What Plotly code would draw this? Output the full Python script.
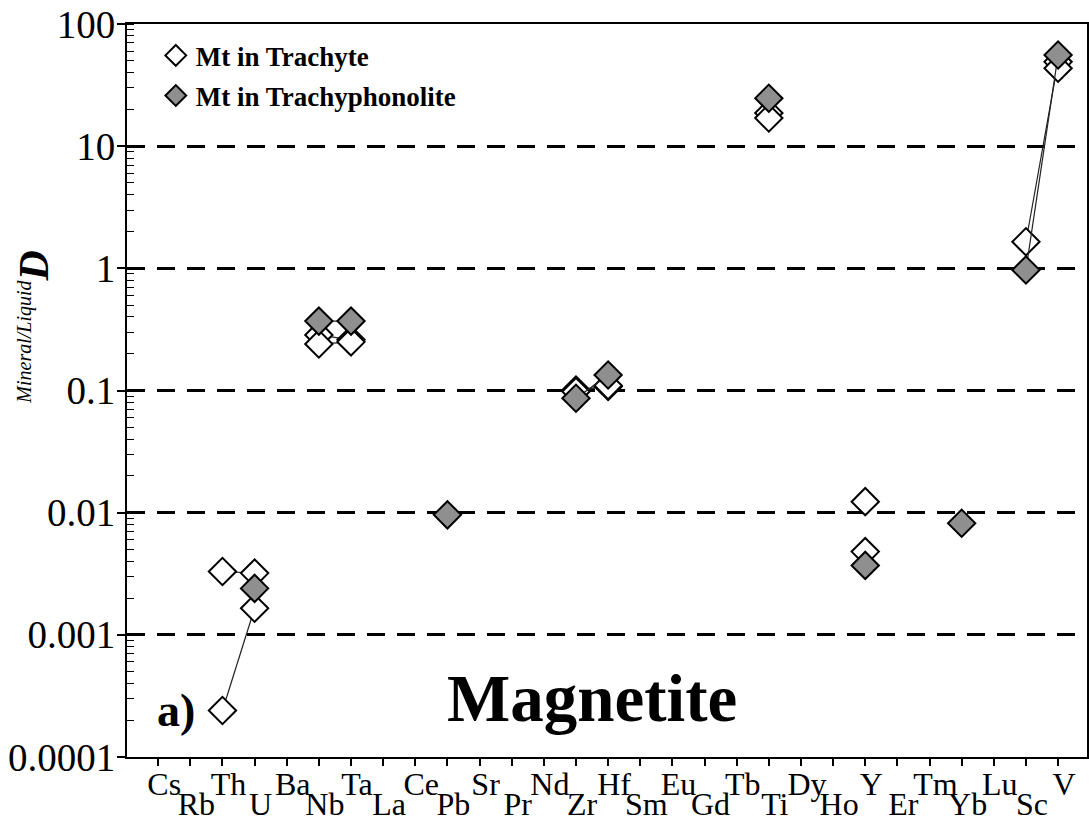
import plotly.graph_objects as go

elements = ["Cs", "Rb", "Th", "U", "Ba", "Nb", "Ta", "La", "Ce", "Pb", "Sr", "Pr", "Nd", "Zr",
            "Hf", "Sm", "Eu", "Gd", "Tb", "Ti", "Dy", "Ho", "Y", "Er", "Tm", "Yb", "Lu", "Sc", "V"]

#            Cs    Rb    Th       U        Ba    Nb     Ta    La    Ce    Pb      Sr    Pr    Nd    Zr      Hf     Sm    Eu    Gd    Tb    Ti    Dy    Ho    Y       Er    Tm    Yb      Lu    Sc    V
trachyte_1 = [None, None, 0.0033,  0.0032,  None, 0.285, 0.26, None, None, None,   None, None, None, 0.101,  0.108, None, None, None, None, 18.7, None, None, 0.0123, None, None, None,   None, 1.65, 49.0]
trachyte_2 = [None, None, 0.00024, 0.00165, None, 0.24,  0.25, None, None, None,   None, None, None, 0.098,  0.110, None, None, None, None, 17.0, None, None, 0.0048, None, None, None,   None, None, 43.4]
trachyphon = [None, None, None,    0.0024,  None, 0.37,  0.37, None, None, 0.0096, None, None, None, 0.0865, 0.134, None, None, None, None, 24.7, None, None, 0.0037, None, None, 0.0082, None, 0.97, 55.7]

ytick_vals = [1e-4, 1e-3, 1e-2, 1e-1, 1, 10, 100]
ytick_text = ["0.0001", "0.001", "0.01", "0.1", "1", "10", "100"]

FONT = "Liberation Serif"
idx = list(range(len(elements)))

fig = go.Figure()

def add_lines(vals, xaxis):
    fig.add_trace(go.Scatter(x=idx, y=vals, mode="lines", line=dict(color="#222", width=1.2),
                             connectgaps=False, showlegend=False, hoverinfo="skip", xaxis=xaxis))

def add_markers(vals, fill, name, show, xaxis):
    fig.add_trace(go.Scatter(x=idx, y=vals, mode="markers", name=name, showlegend=show,
                             legendgroup=name, xaxis=xaxis,
                             marker=dict(symbol="diamond", size=21, color=fill,
                                         line=dict(color="black", width=2))))

add_lines(trachyte_1, "x")
add_markers(trachyte_1, "white", "<b>Mt in Trachyte</b>", True, "x")
add_lines(trachyte_2, "x")
add_markers(trachyte_2, "white", "<b>Mt in Trachyte</b>", False, "x")
add_lines(trachyphon, "x2")
add_markers(trachyphon, "#8f8f8f", "<b>Mt in Trachyphonolite</b>", True, "x3")

xr = [-0.97, 28.9]
even_vals = [i for i in idx if i % 2 == 0]
even_text = [elements[i] for i in even_vals]
odd_vals = [i for i in idx if i % 2 == 1]
odd_text = [elements[i] for i in odd_vals]

tickfont = dict(size=32, family=FONT, color="black")

fig.update_layout(
    template="none",
    width=1089, height=824,
    margin=dict(l=127, r=2, t=24, b=67),
    paper_bgcolor="white", plot_bgcolor="white",
    font=dict(family=FONT, color="black"),
    xaxis=dict(range=xr, tickmode="array", tickvals=idx, showticklabels=False,
               ticks="outside", ticklen=7, tickwidth=1.5, tickcolor="black",
               showline=True, linewidth=2, linecolor="black", mirror=True,
               showgrid=False, zeroline=False, automargin=False),
    xaxis2=dict(range=xr, overlaying="x", anchor="y", side="bottom", tickmode="array",
                tickvals=even_vals, ticktext=even_text, ticks="", showline=False,
                showgrid=False, zeroline=False, ticklabelstandoff=5, ticklabelshift=6,
                tickfont=tickfont, automargin=False),
    xaxis3=dict(range=xr, overlaying="x", anchor="y", side="bottom", tickmode="array",
                tickvals=odd_vals, ticktext=odd_text, ticks="outside", ticklen=24,
                tickcolor="rgba(0,0,0,0)", showline=False, showgrid=False, zeroline=False,
                ticklabelstandoff=-5, ticklabelshift=6, tickfont=tickfont, automargin=False),
    yaxis=dict(type="log", range=[-4, 2], tickmode="array", tickvals=ytick_vals,
               ticktext=ytick_text, ticks="outside", ticklen=8, tickwidth=2, tickcolor="black",
               showline=True, linewidth=2, linecolor="black", mirror=True,
               showgrid=True, gridcolor="black", gridwidth=2.5, griddash="18px,12px",
               zeroline=False, ticklabelstandoff=-6, automargin=False,
               tickfont=dict(size=39, family=FONT, color="black"),
               minor=dict(ticks="inside", ticklen=7, tickwidth=1.3, tickcolor="black",
                          dtick="D1", showgrid=False)),
    legend=dict(x=0.03, y=0.99, xanchor="left", yanchor="top", bgcolor="rgba(0,0,0,0)",
                font=dict(size=27, family=FONT, color="black"), traceorder="grouped",
                tracegroupgap=2),
    showlegend=True,
)

fig.add_annotation(xref="paper", yref="paper", x=0.029, y=0.026, text="<b>a)</b>",
                   showarrow=False, font=dict(size=46, family=FONT, color="black"))
fig.add_annotation(xref="paper", yref="paper", x=0.484, y=0.027, text="<b>Magnetite</b>",
                   showarrow=False, font=dict(size=67, family=FONT, color="black"))
fig.add_annotation(xref="paper", yref="paper", x=-0.123, y=0.587, textangle=-90,
                   text="<sup><span style='font-size:20px'><i>Mineral/Liquid</i></span></sup><b><i>D</i></b>",
                   showarrow=False, font=dict(size=42, family=FONT, color="black"))

fig.write_html("out.html")
